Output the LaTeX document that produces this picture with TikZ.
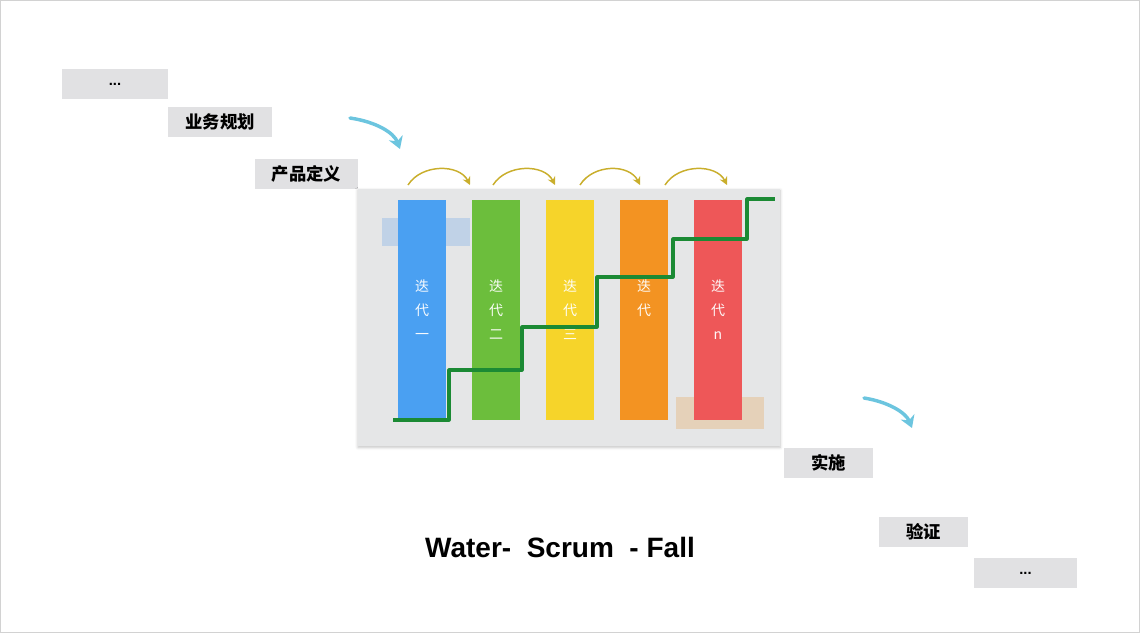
\documentclass[tikz,border=0pt]{standalone}
\usepackage{fontspec}
\setmainfont{Liberation Sans}
\newfontfamily\cjk{Noto Sans CJK SC}
\usetikzlibrary{arrows.meta,shadows.blur}
\definecolor{boxgray}{HTML}{E1E1E3}
\definecolor{panelgray}{HTML}{E5E6E7}
\definecolor{itblue}{HTML}{4AA0F2}
\definecolor{itgreen}{HTML}{6CBE3C}
\definecolor{ityellow}{HTML}{F6D42A}
\definecolor{itorange}{HTML}{F39322}
\definecolor{itred}{HTML}{EE5758}
\definecolor{stairs}{HTML}{1B8A34}
\definecolor{hop}{HTML}{C9AE2C}
\definecolor{swoosh}{HTML}{6CC5DF}
\definecolor{ghostblue}{HTML}{B7CDE8}
\definecolor{ghosttan}{HTML}{E6CCAE}
\tikzset{
  every node/.style={text=black},
  phase/.style={fill=boxgray, draw=none, inner sep=0pt,
    minimum width=#1, minimum height=22.5pt,
    font=\cjk\bfseries\fontsize{13}{13}\selectfont},
  dotsbox/.style={phase=#1, font=\bfseries\fontsize{11}{11}\selectfont},
  iter/.style={fill=#1, draw=none, inner sep=0pt,
    minimum width=36pt, minimum height=165pt, align=center,
    text=white!95!#1, font=\cjk\fontsize{10.5}{18}\selectfont},
  hoparrow/.style={draw=hop, line width=1.1pt, -{Stealth[length=6pt,width=6pt]}},
  swooshy/.style={draw=swoosh, line width=2.6pt, line cap=round,
    -{Stealth[length=9pt,width=11pt]}},
  ghost/.style={fill=#1, draw=none, opacity=0.8}
}

\begin{document}
\begin{tikzpicture}[x=0.75pt,y=-0.75pt]

% =========================
% PAGE
% =========================
\useasboundingbox (0,0) rectangle (1140,633);
\draw[gray!35, line width=0.8pt] (0.5,0.5) rectangle (1139.5,632.5);

% =========================
% WATERFALL STEPS (top left)
% =========================
\node[dotsbox=79.5pt] (dots1) at (115,84)  {\raisebox{-2pt}{...}};
\node[phase=78pt]     (plan)  at (220,122) {业务规划};
\node[phase=77pt]     (prod)  at (306.5,174) {产品定义};

\draw[swooshy] (350,118) .. controls (377,122) and (394,133) .. (400,149);

% =========================
% SCRUM PANEL
% =========================
\fill[panelgray, blur shadow={shadow blur steps=4, shadow xshift=0pt, shadow yshift=-1pt, shadow opacity=25}]
  (358,189) rectangle (780,446);

% faint shapes behind the bars
\fill[ghost=ghostblue] (382,218) rectangle (470,246);
\fill[ghost=ghosttan]  (676,397) rectangle (764,429);

% iterations
\node[iter=itblue]   (it1) at (422,310) {迭\\代\\一};
\node[iter=itgreen]  (it2) at (496,310) {迭\\代\\二};
\node[iter=ityellow] (it3) at (570,310) {迭\\代\\三};
\node[iter=itorange] (it4) at (644,310) {迭\\代\\\phantom{一}};
\node[iter=itred]    (itn) at (718,310) {迭\\代\\n};

% hops above the iterations
\foreach \i/\sx/\ex in {1/408/470, 2/493/555, 3/580/640, 4/665/727}{
  \coordinate (hopS\i) at (\sx,185);
  \coordinate (hopE\i) at (\ex,185);
  \draw[hoparrow] (hopS\i) .. controls ([xshift=10pt,yshift=16pt]hopS\i) and ([xshift=-8pt,yshift=16pt]hopE\i) .. (hopE\i);
}

% stairs
\draw[stairs, line width=2.4pt, line join=round]
  (393,420) -- (449,420) -- (449,370) -- (522,370) -- (522,327)
  -- (597,327) -- (597,277) -- (673,277) -- (673,239)
  -- (747,239) -- (747,199) -- (775,199);

% =========================
% WATERFALL STEPS (bottom right)
% =========================
\draw[swooshy] (864,398) .. controls (889,402) and (906,413) .. (912,428);

\node[phase=67pt]    (impl)  at (828.5,463) {实施};
\node[phase=67pt]    (check) at (923.5,531.5) {验证};
\node[dotsbox=77pt]  (dots2) at (1025.5,573) {\raisebox{-2pt}{...}};

% =========================
% TITLE
% =========================
\node[font=\bfseries\fontsize{21}{21}\selectfont] (title) at (560,547)
  {Water-\ \ Scrum\ \ - Fall};

\end{tikzpicture}
\end{document}
